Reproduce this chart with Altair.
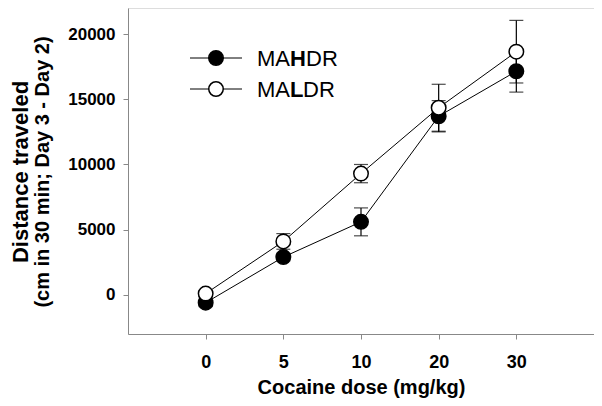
import altair as alt
import pandas as pd

doses = ["0", "5", "10", "20", "30"]
groups = ["MAHDR", "MALDR"]
mahdr_mean = [-600, 2900, 5600, 13700, 17150]
mahdr_sem = [300, 300, 1070, 1200, 1600]
maldr_mean = [100, 4100, 9300, 14350, 18650]
maldr_sem = [250, 600, 700, 1800, 2400]
y_ticks = [0, 5000, 10000, 15000, 20000]

rows = []
for g, means, sems in [("MAHDR", mahdr_mean, mahdr_sem), ("MALDR", maldr_mean, maldr_sem)]:
    for d, m, s in zip(doses, means, sems):
        rows.append(dict(dose=d, group=g, mean=m, lo=m - s, hi=m + s))
df = pd.DataFrame(rows)

FONT = "Liberation Sans"

x = alt.X(
    "dose:O",
    sort=doses,
    scale=alt.Scale(type="point", padding=1),
    axis=alt.Axis(
        title="Cocaine dose (mg/kg)",
        labelAngle=0,
        labelFontSize=18,
        labelFontWeight="bold",
        labelPadding=14,
        tickSize=5,
        titleFontSize=20,
        titleFontWeight="bold",
        titlePadding=6,
    ),
)
y = alt.Y(
    "mean:Q",
    scale=alt.Scale(domain=[-3000, 22000], nice=False, zero=False),
    axis=alt.Axis(
        title=None,
        values=y_ticks,
        format="d",
        labelFontSize=17,
        labelFontWeight="bold",
        labelPadding=8,
        tickSize=5,
        grid=False,
    ),
)

base = alt.Chart(df)
lines = base.mark_line(color="black", strokeWidth=1).encode(x=x, y=y, detail="group:N")
err = base.mark_rule(color="black", strokeWidth=1.2).encode(x=x, y=alt.Y("lo:Q"), y2="hi:Q")
cap_lo = base.mark_tick(color="black", size=14, thickness=1.2).encode(x=x, y=alt.Y("lo:Q"))
cap_hi = base.mark_tick(color="black", size=14, thickness=1.2).encode(x=x, y=alt.Y("hi:Q"))
fill_scale = alt.Scale(domain=groups, range=["black", "white"])
points = base.mark_circle(size=210, stroke="black", strokeWidth=1.5, opacity=1).encode(
    x=x, y=y, fill=alt.Fill("group:N", scale=fill_scale, legend=None)
)

one = pd.DataFrame({"a": [0]})


def txt(s, px, py, size, weight="normal", angle=0, align="left", baseline="middle"):
    return alt.Chart(one).mark_text(
        font=FONT, fontSize=size, fontWeight=weight, angle=angle, align=align,
        baseline=baseline, color="black"
    ).encode(x=alt.value(px), y=alt.value(py), text=alt.value(s))


legend_layers = []
for i, (g, fillc, parts) in enumerate([
    ("MAHDR", "black", [("MA", "normal", 129), ("H", "bold", 162), ("DR", "normal", 178)]),
    ("MALDR", "white", [("MA", "normal", 129), ("L", "bold", 162), ("DR", "normal", 175)]),
]):
    ly = 50 + i * 31
    legend_layers.append(
        alt.Chart(one).mark_rule(color="black", strokeWidth=1).encode(
            x=alt.value(62), x2=alt.value(114), y=alt.value(ly)
        )
    )
    legend_layers.append(
        alt.Chart(one).mark_circle(size=210, stroke="black", strokeWidth=1.5, opacity=1, fill=fillc).encode(
            x=alt.value(88), y=alt.value(ly)
        )
    )
    for s, w, px in parts:
        legend_layers.append(txt(s, px, ly + 1, 22, w))

title1 = txt("Distance traveled", -100, 164, 22, "bold", angle=270, align="center", baseline="alphabetic")
title2 = txt("(cm in 30 min; Day 3 - Day 2)", -85, 164, 20, "bold", angle=270, align="center")

chart = alt.layer(
    lines, err, cap_lo, cap_hi, points, *legend_layers, title1, title2
).properties(
    width=466,
    height=326,
    autosize=alt.AutoSizeParams(type="none"),
    padding={"left": 120, "top": 0, "right": 0, "bottom": 70},
).configure_view(stroke=None).configure_axis(
    domainColor="black",
    domainWidth=1.5,
    tickColor="black",
    tickWidth=1.2,
    labelColor="black",
    titleColor="black",
    labelFont=FONT,
    titleFont=FONT,
).configure(background="white")

chart.save("out.html", embed_options={"renderer": "svg", "actions": False})
